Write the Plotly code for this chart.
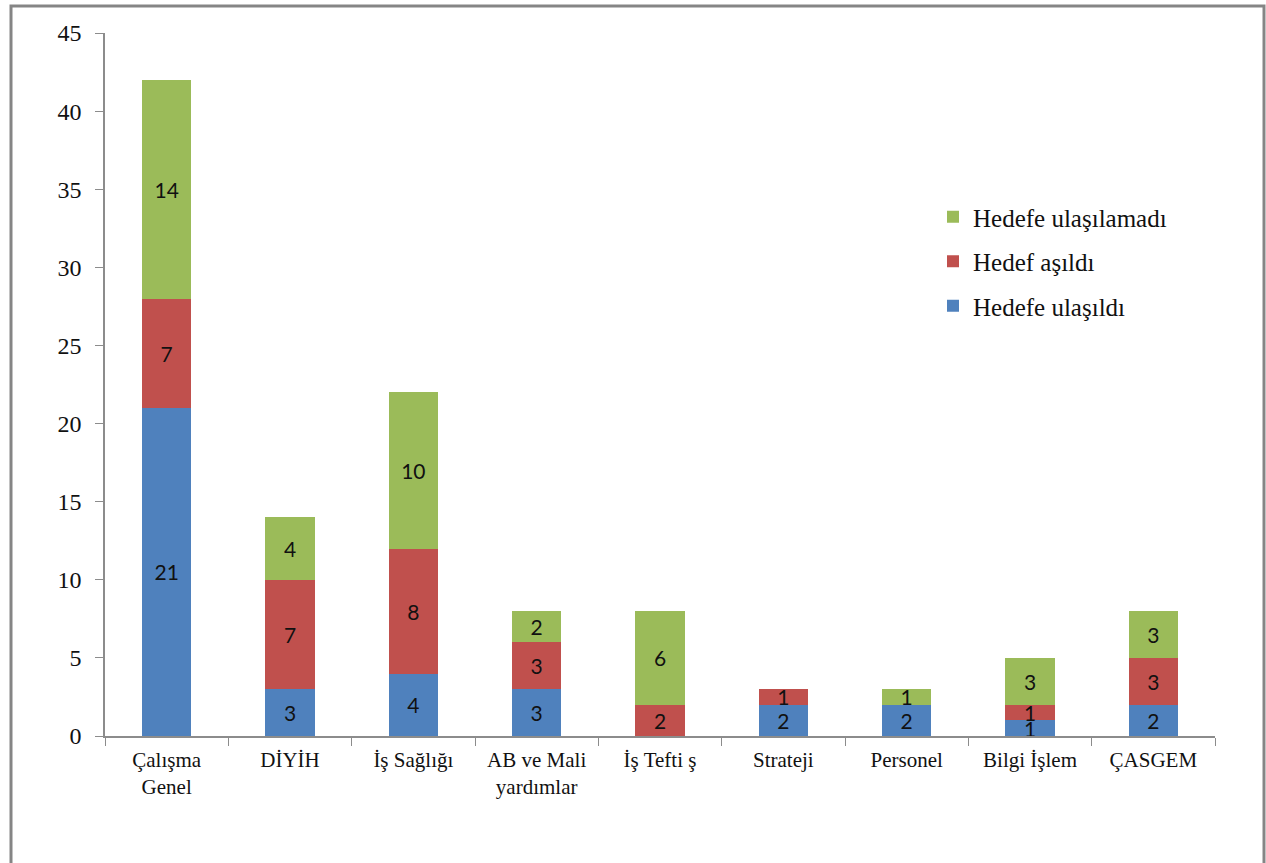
import plotly.graph_objects as go

categories = ["Çalışma<br>Genel", "DİYİH", "İş Sağlığı", "AB ve Mali<br>yardımlar", "İş Tefti ş",
              "Strateji", "Personel", "Bilgi İşlem", "ÇASGEM"]
ulasildi = [21, 3, 4, 3, 0, 2, 2, 1, 2]
asildi = [7, 7, 8, 3, 2, 1, 0, 1, 3]
ulasilamadi = [14, 4, 10, 2, 6, 0, 1, 3, 3]
y_ticks = [0, 5, 10, 15, 20, 25, 30, 35, 40, 45]

series = [
    ("Hedefe ulaşıldı", ulasildi, "#4F81BD", 3),
    ("Hedef aşıldı", asildi, "#C0504D", 2),
    ("Hedefe ulaşılamadı", ulasilamadi, "#9BBB59", 1),
]

fig = go.Figure()
for name, vals, color, rank in series:
    fig.add_trace(go.Bar(
        x=categories, y=vals, name=name, legendgroup=name, legendrank=rank,
        marker=dict(color=color, line=dict(width=0)),
        text=[str(v) if v else "" for v in vals],
        textposition="inside", insidetextanchor="middle", textangle=0,
        constraintext="none", cliponaxis=False,
        textfont=dict(family="Lato", size=21, color="#111111"),
        hoverinfo="skip",
    ))

# plot area in page pixels: x 105..1215, y 33..736
L, R, T, B = 105, 1215, 33, 736
W, H = R - L, B - T
def px(x):
    return (x - L) / W
def py(y):
    return (B - y) / H

fig.update_layout(
    width=1266, height=863,
    margin=dict(l=L, r=1266 - R, t=T, b=863 - B, pad=0),
    barmode="stack", bargap=0.6,
    paper_bgcolor="white", plot_bgcolor="white",
    font=dict(family="Liberation Serif", size=20, color="#111111"),
    showlegend=True,
    legend=dict(
        x=px(933), y=py(194), xanchor="left", yanchor="top",
        traceorder="grouped", tracegroupgap=9,
        font=dict(family="Liberation Serif", size=25, color="#111111"),
        bgcolor="rgba(0,0,0,0)",
    ),
    xaxis=dict(
        showline=True, linecolor="#8c8c8c", linewidth=1.5,
        ticks="outside", tickson="boundaries", ticklen=8, tickcolor="#8c8c8c",
        tickfont=dict(family="Liberation Serif", size=21, color="#111111"),
        ticklabelstandoff=4,
        showgrid=False, zeroline=False,
    ),
    yaxis=dict(
        range=[0, 45], tickvals=y_ticks,
        showline=True, linecolor="#8c8c8c", linewidth=1.5,
        ticks="outside", ticklen=8, tickcolor="#8c8c8c",
        tickfont=dict(family="Liberation Serif", size=24, color="#111111"),
        ticklabelstandoff=9,
        showgrid=False, zeroline=False,
    ),
    shapes=[dict(
        type="rect", xref="paper", yref="paper",
        x0=px(11), x1=px(1264), y0=py(880), y1=py(6),
        line=dict(color="#858585", width=3), fillcolor="rgba(0,0,0,0)", layer="below",
    )],
)

fig.write_html("out.html", config={"displayModeBar": False},
               post_script="document.body.style.margin='0px';document.body.style.overflow='hidden';")
